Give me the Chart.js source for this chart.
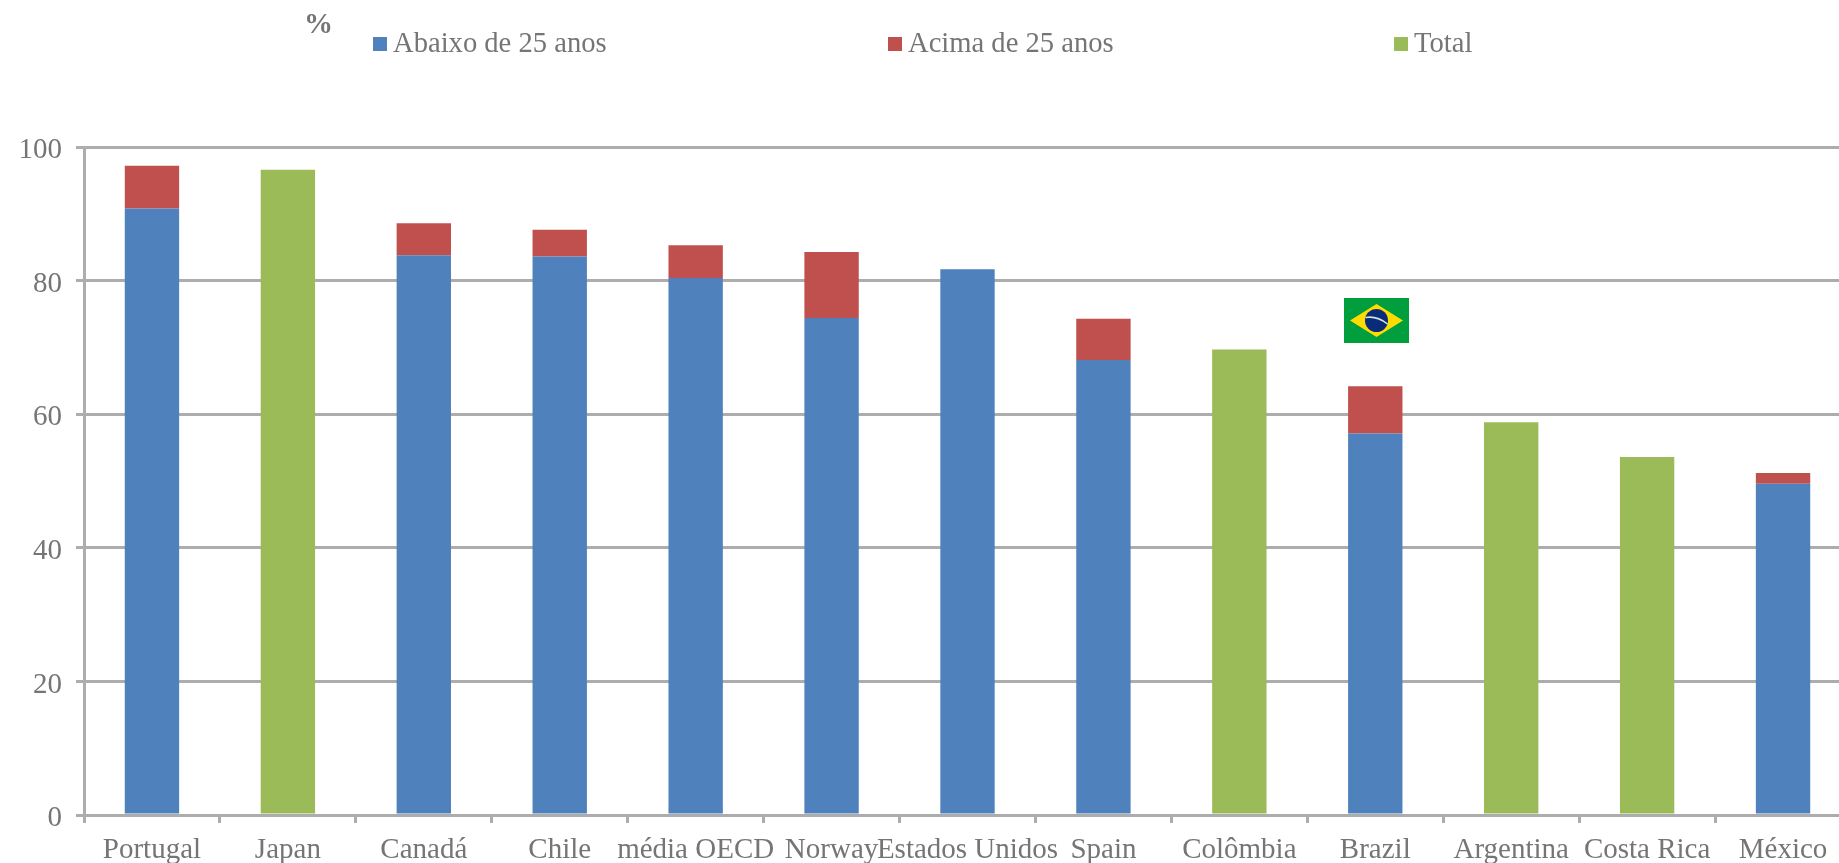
<!DOCTYPE html>
<html lang="pt">
<head>
<meta charset="utf-8">
<title>Abaixo de 25 anos / Acima de 25 anos</title>
<script src="https://cdn.jsdelivr.net/npm/chart.js@4/dist/chart.umd.min.js"></script>
<style>
  html, body { margin: 0; padding: 0; background: #fff; width: 1839px; height: 863px; overflow: hidden; }
  #wrap { position: relative; width: 1839px; height: 863px; overflow: hidden; font-family: "Liberation Serif", serif; color: #757575; }
  #chart { position: absolute; left: 0; top: 0; }
  #unit { position: absolute; left: 304px; top: 7px; font-size: 29px; font-weight: bold; }
  .legend-item { position: absolute; top: 27px; font-size: 28.6px; line-height: 32px; white-space: nowrap; }
  .legend-item i { display: inline-block; width: 14px; height: 14px; margin-right: 6px; vertical-align: 1px; }
  #flag { position: absolute; left: 1344px; top: 298px; }
</style>
</head>
<body>
<div id="wrap">
  <canvas id="chart"></canvas>
  <div id="unit">%</div>
  <div id="legend"></div>
  <!-- Brazilian flag sitting above the Brazil bar -->
  <svg id="flag" width="65" height="45" viewBox="0 0 65 45">
    <rect width="65" height="45" fill="#009e3d"/>
    <polygon points="32.5,6 59,22.5 32.5,39 6,22.5" fill="#ffdc00"/>
    <circle cx="32.5" cy="22.5" r="11.5" fill="#0a2a7a"/>
    <path d="M21.5 19.5 Q33 17.5 43.5 26" stroke="#cfe3d8" stroke-width="1.6" fill="none"/>
  </svg>
</div>
<script>
// Values (%)
const categories = ["Portugal", "Japan", "Canadá", "Chile", "média OECD", "Norway", "Estados Unidos", "Spain", "Colômbia", "Brazil", "Argentina", "Costa Rica", "México"];
const below25 = [90.8, null, 83.8, 83.6, 80.4, 74.4, 81.7, 68.1, null, 57.1, null, null, 49.6];
const above25 = [6.4, null, 4.8, 4.0, 4.9, 9.9, null, 6.2, null, 7.1, null, null, 1.6];
const total = [null, 96.6, null, null, null, null, null, null, 69.7, null, 58.8, 53.6, null];
const seriesNames = ["Abaixo de 25 anos", "Acima de 25 anos", "Total"];
const seriesColors = ["#4f81bd", "#c0504d", "#9bbb59"];
const legendLeft = [373, 888, 1394];

const axisColor = "#adadad";
const textColor = "#757575";
const labelFont = { family: "'Liberation Serif', serif", size: 29 };

// Legend is plain html so each entry can keep its own position
const legendBox = document.getElementById("legend");
seriesNames.forEach((name, i) => {
  const item = document.createElement("div");
  item.className = "legend-item";
  item.style.left = legendLeft[i] + "px";
  item.innerHTML = '<i style="background:' + seriesColors[i] + '"></i>' + name;
  legendBox.appendChild(item);
});

// The last category runs past the window edge, so the canvas is wider than the page
const canvas = document.getElementById("chart");
canvas.style.width = "1860px";
canvas.style.height = "863px";
canvas.width = 1860;
canvas.height = 863;

new Chart(canvas.getContext("2d"), {
  type: "bar",
  data: {
    labels: categories,
    datasets: [
      { label: seriesNames[0], data: below25, backgroundColor: seriesColors[0] },
      { label: seriesNames[1], data: above25, backgroundColor: seriesColors[1] },
      { label: seriesNames[2], data: total, backgroundColor: seriesColors[2] },
    ],
  },
  options: {
    responsive: false,
    animation: false,
    devicePixelRatio: 1,
    layout: { padding: { top: 147, right: 9, left: 0, bottom: 0 } },
    datasets: { bar: { categoryPercentage: 1, barPercentage: 0.4 } },
    plugins: { legend: { display: false }, title: { display: false }, tooltip: { enabled: false } },
    scales: {
      x: {
        stacked: true,
        afterFit: (scale) => { scale.height = 48; },
        border: { color: axisColor, width: 3 },
        grid: { display: true, offset: true, drawOnChartArea: false, color: axisColor, lineWidth: 3, tickLength: 8 },
        ticks: { color: textColor, font: labelFont, padding: 10, autoSkip: false, minRotation: 0, maxRotation: 0 },
      },
      y: {
        stacked: true,
        min: 0,
        max: 100,
        afterFit: (scale) => { scale.width = 84; },
        border: { color: axisColor, width: 3 },
        grid: { color: axisColor, lineWidth: 3, tickLength: 8 },
        ticks: {
          stepSize: 20,
          color: textColor,
          // blank first line nudges the numbers down a little, like the original's low figures
          font: { ...labelFont, lineHeight: "7px" },
          padding: 14,
          callback: (value) => ["", value],
        },
      },
    },
  },
});
</script>
</body>
</html>
